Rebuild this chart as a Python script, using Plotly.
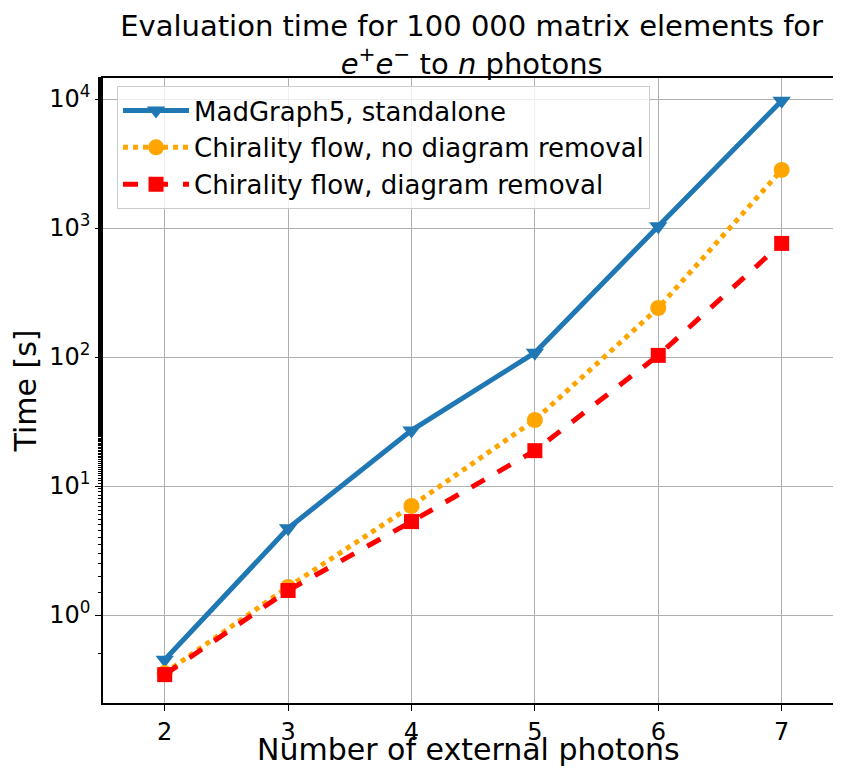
import plotly.graph_objects as go

# photons in final state
n_photons = [2, 3, 4, 5, 6, 7]

# evaluation time [s] for 100 000 matrix elements
t_madgraph = [0.45, 4.7, 27, 108, 1030, 9700]
t_chiral_noremoval = [0.355, 1.65, 7.0, 32.5, 240, 2820]
t_chiral_removal = [0.345, 1.55, 5.3, 18.8, 103, 760]

# y tick labels
y_tickvals = [1, 10, 100, 1000, 10000]
y_ticktext = ["10<sup>0</sup>", "10<sup>1</sup>", "10<sup>2</sup>",
              "10<sup>3</sup>", "10<sup>4</sup>"]

FONT = "DejaVu Sans"

fig = go.Figure()
fig.add_trace(go.Scatter(
    x=n_photons, y=t_madgraph, mode="lines+markers",
    name="MadGraph5, standalone",
    line=dict(color="#1f77b4", width=5),
    marker=dict(symbol="triangle-down", size=16, color="#1f77b4")))
fig.add_trace(go.Scatter(
    x=n_photons, y=t_chiral_noremoval, mode="lines+markers",
    name="Chirality flow, no diagram removal",
    line=dict(color="orange", width=5, dash="dot"),
    marker=dict(symbol="circle", size=16, color="orange")))
fig.add_trace(go.Scatter(
    x=n_photons, y=t_chiral_removal, mode="lines+markers",
    name="Chirality flow, diagram removal",
    line=dict(color="red", width=5, dash="dash"),
    marker=dict(symbol="square", size=15, color="red")))

# page has an 8px body margin, so the figure is shifted by 8px
fig.update_layout(
    width=825, height=761,
    font=dict(family=FONT, color="black", size=24),
    paper_bgcolor="white", plot_bgcolor="white",
    margin=dict(l=95, r=0, t=70, b=66, autoexpand=False),
    xaxis=dict(
        range=[1.5, 7.416], tickvals=n_photons, ticks="outside", ticklen=6,
        tickcolor="black", tickfont=dict(family=FONT, size=24, color="black"),
        showline=True, linecolor="black", linewidth=1.5, mirror=True,
        showgrid=True, gridcolor="#b0b0b0", gridwidth=1, zeroline=False,
        automargin=False),
    yaxis=dict(
        type="log", range=[-0.682, 4.163],
        tickvals=y_tickvals, ticktext=y_ticktext,
        ticks="outside", ticklen=6, tickcolor="black",
        tickfont=dict(family=FONT, size=24, color="black"),
        minor=dict(ticks="outside", ticklen=3, tickcolor="black", showgrid=False),
        showline=True, linecolor="black", linewidth=1.5, mirror=True,
        showgrid=True, gridcolor="#b0b0b0", gridwidth=1, zeroline=False,
        automargin=False,
        title=dict(text="Time [s]", font=dict(family=FONT, size=30, color="black"),
                   standoff=4)),
    title=dict(
        text="Evaluation time for 100 000 matrix elements for<br>"
             "<i>e</i><sup>+</sup><i>e</i><sup>\u2212</sup> to <i>n</i> photons",
        font=dict(family=FONT, size=29, color="black"),
        xref="paper", x=0.505, xanchor="center",
        yref="container", y=0.9634, yanchor="middle"),
    legend=dict(
        x=0.0192, y=0.987, xanchor="left", yanchor="top",
        bgcolor="rgba(255,255,255,0.8)", bordercolor="#cccccc", borderwidth=1,
        font=dict(family=FONT, size=26, color="black"), itemwidth=66),
    showlegend=True,
)

# x axis title as annotation (the margin is too tight for the axis title)
fig.add_annotation(
    text="Number of external photons", xref="paper", yref="paper",
    x=0.5, y=0, xanchor="center", yanchor="middle", yshift=-46,
    showarrow=False, font=dict(family=FONT, size=30, color="black"))

fig.write_html("out.html")
